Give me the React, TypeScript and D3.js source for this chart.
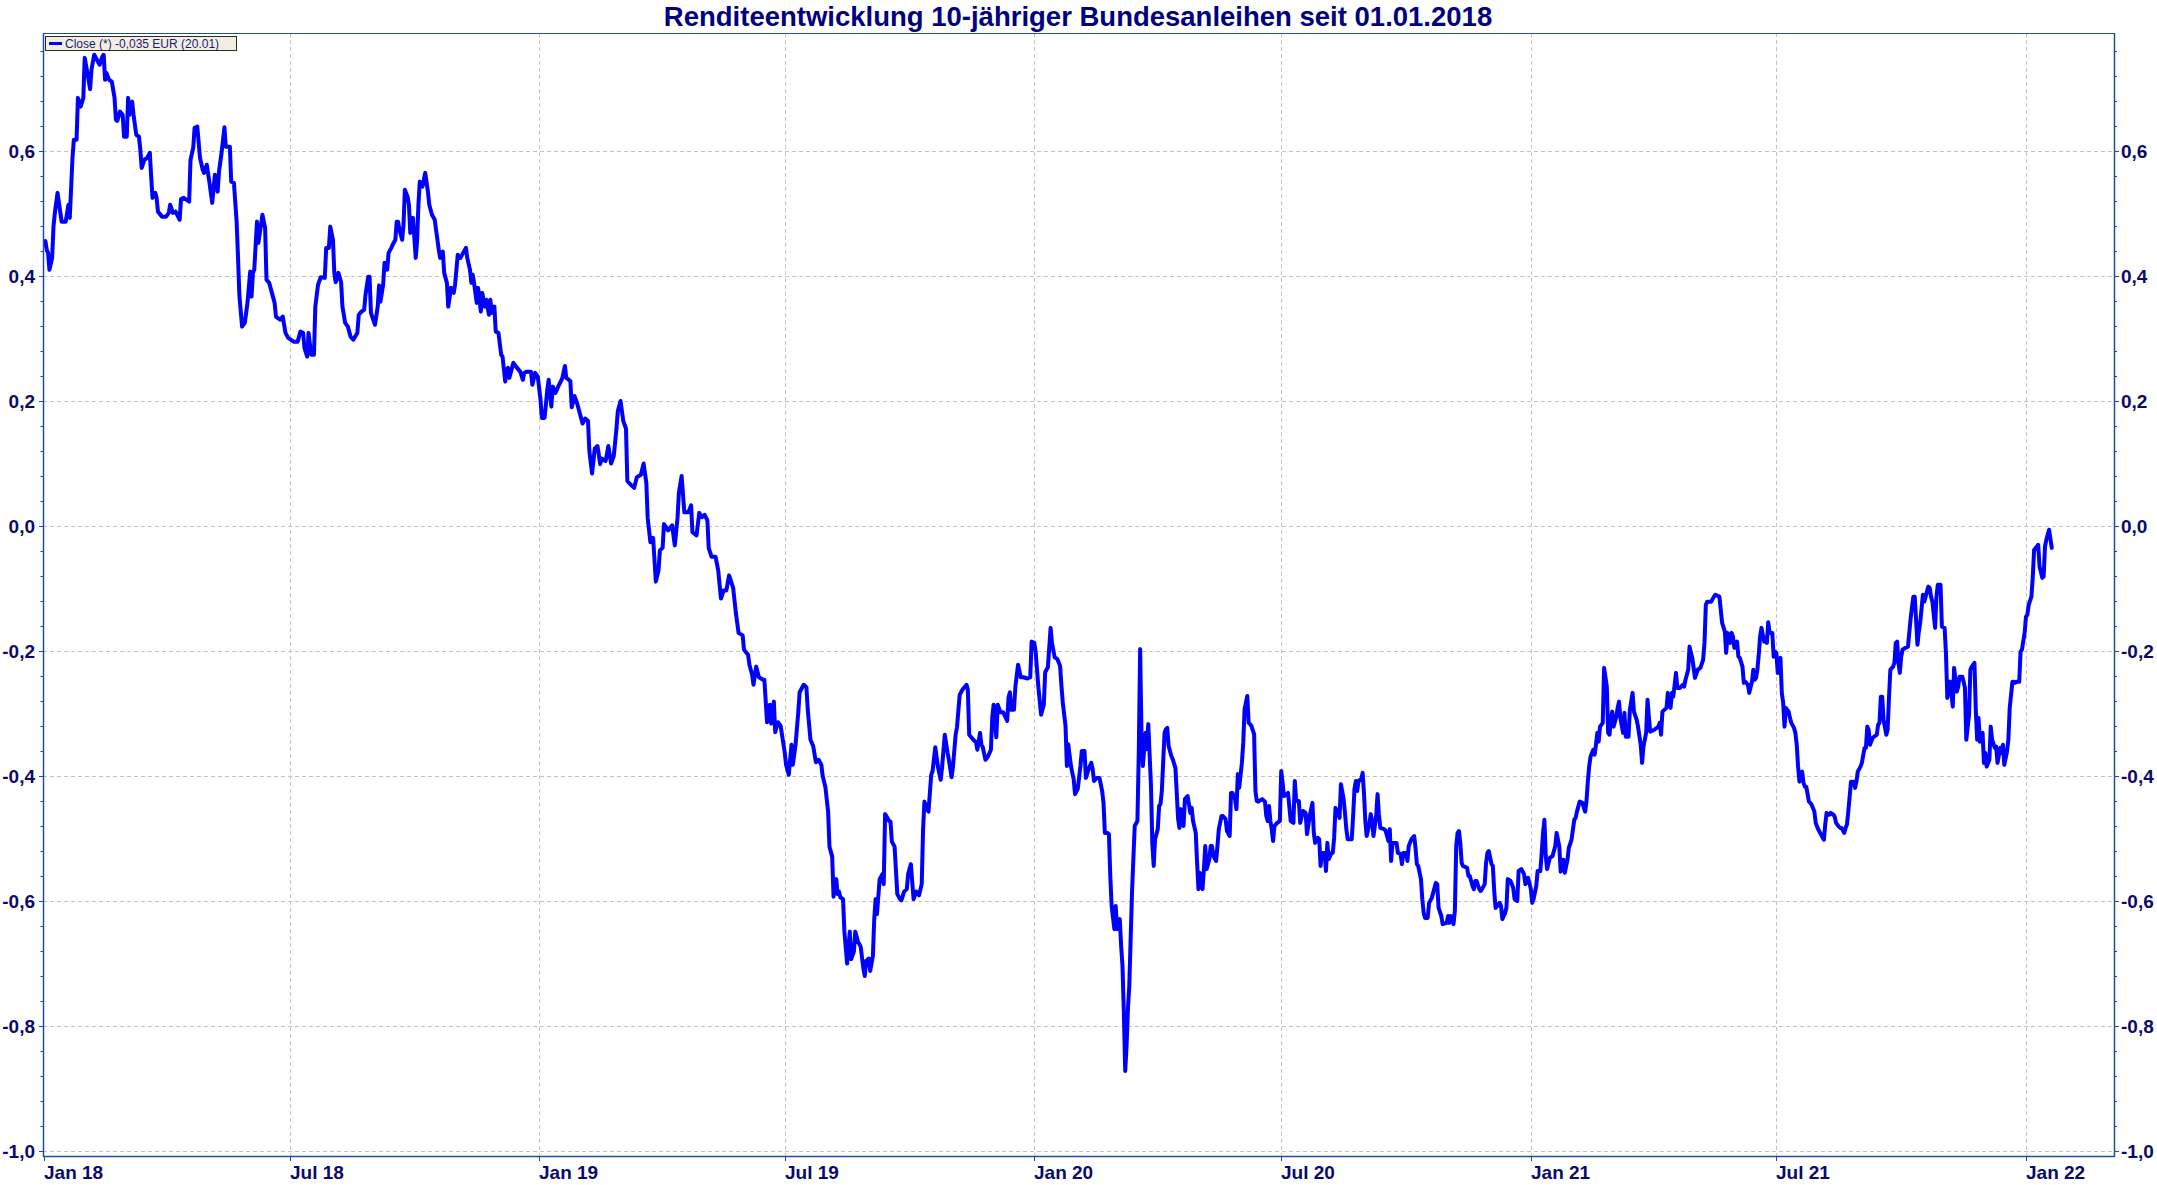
import React from "react";
import * as d3 from "d3";

// x values are days counted from 2018-01-01, y values are yields in percent
const series2018: [number, number][] = [
  [1,0.456],[2,0.442],[3,0.437],[4,0.410],[6,0.429],[7,0.479],[8,0.501],[10,0.533],[11,0.517],[13,0.487],[16,0.487],[18,0.514],[19,0.493],[20,0.541],[21,0.589],[22,0.618],[24,0.618],[25,0.685],[27,0.671],[29,0.685],[30,0.749],[32,0.725],[34,0.699],[35,0.730],[37,0.754],[39,0.746],[41,0.738],[43,0.751],[44,0.754],[45,0.714],[46,0.725],[48,0.714],[50,0.711],[52,0.685],[53,0.650],[54,0.648],[56,0.663],[58,0.658],[59,0.623],[61,0.623],[62,0.685],[63,0.658],[65,0.679],[66,0.658],[68,0.626],[70,0.623],[71,0.602],[72,0.573],[74,0.586],[76,0.589],[78,0.597],[79,0.559],[80,0.525],[82,0.533],[83,0.525],[84,0.503],[87,0.495],[90,0.495],[92,0.501],[93,0.514],[95,0.501],[97,0.503],[100,0.490],[101,0.523],[103,0.525],[107,0.519],[108,0.586],[110,0.605],[111,0.637],[113,0.639],[115,0.589],[117,0.570],[118,0.565],[120,0.578],[122,0.549],[124,0.517],[126,0.562],[128,0.535],[129,0.567],[131,0.599],[133,0.638],[134,0.607],[137,0.607],[138,0.551],[140,0.549],[142,0.487],[143,0.431],[144,0.370],[146,0.319],[148,0.325],[150,0.357],[152,0.407],[153,0.367],[154,0.405],[155,0.410],[157,0.487],[158,0.453],[160,0.482],[161,0.498],[163,0.477],[164,0.394],[166,0.389],[168,0.373],[170,0.357],[171,0.335],[174,0.330],[176,0.335],[178,0.309],[180,0.301],[184,0.295],[187,0.295],[189,0.311],[191,0.309],[192,0.285],[194,0.271],[195,0.309],[197,0.274],[199,0.274],[200,0.351],[202,0.386],[204,0.398],[207,0.397],[208,0.445],[210,0.445],[211,0.479],[213,0.458],[214,0.405],[215,0.390],[217,0.405],[219,0.390],[220,0.351],[222,0.325],[224,0.319],[226,0.303],[228,0.298],[231,0.309],[232,0.338],[234,0.343],[236,0.346],[237,0.370],[239,0.399],[240,0.399],[241,0.341],[244,0.322],[246,0.351],[247,0.385],[248,0.359],[250,0.386],[251,0.421],[253,0.410],[254,0.437],[256,0.445],[257,0.450],[259,0.458],[260,0.487],[261,0.487],[262,0.474],[264,0.458],[265,0.482],[266,0.538],[268,0.527],[269,0.514],[270,0.469],[272,0.493],[274,0.429],[275,0.455],[276,0.514],[277,0.551],[279,0.543],[280,0.554],[281,0.565],[283,0.535],[284,0.514],[286,0.498],[288,0.490],[290,0.458],[291,0.442],[292,0.429],[294,0.439],[295,0.405],[297,0.389],[298,0.351],[300,0.381],[302,0.373],[303,0.386],[305,0.434],[307,0.429],[309,0.437],[311,0.445],[312,0.429],[314,0.410],[315,0.389],[316,0.402],[317,0.389],[319,0.357],[320,0.381],[322,0.343],[323,0.373],[325,0.351],[326,0.362],[328,0.338],[329,0.362],[330,0.341],[332,0.351],[333,0.311],[335,0.309],[337,0.274],[338,0.271],[340,0.231],[341,0.250],[342,0.253],[343,0.237],[345,0.253],[346,0.261],[348,0.255],[351,0.247],[353,0.234],[354,0.245],[356,0.247],[359,0.247],[360,0.226],[362,0.245],[364,0.239]
];

const series2019: [number, number][] = [
  [366,0.202],[367,0.173],[369,0.173],[371,0.218],[372,0.234],[374,0.191],[375,0.223],[377,0.213],[379,0.223],[382,0.236],[384,0.256],[385,0.237],[388,0.232],[389,0.190],[391,0.208],[393,0.196],[395,0.180],[397,0.164],[399,0.172],[401,0.168],[402,0.120],[404,0.084],[406,0.124],[408,0.128],[410,0.099],[411,0.108],[414,0.104],[416,0.128],[418,0.100],[420,0.112],[422,0.156],[423,0.184],[425,0.200],[427,0.168],[429,0.156],[430,0.072],[433,0.065],[435,0.061],[437,0.078],[440,0.082],[442,0.100],[444,0.069],[445,0.013],[447,-0.026],[449,-0.019],[451,-0.089],[453,-0.071],[454,-0.039],[456,-0.035],[457,0.003],[460,-0.007],[463,0.001],[465,-0.031],[467,0.013],[468,0.053],[470,0.080],[472,0.022],[475,0.022],[477,0.033],[478,-0.010],[481,-0.015],[483,0.021],[485,0.014],[487,0.018],[489,0.009],[490,-0.035],[492,-0.049],[495,-0.049],[497,-0.071],[499,-0.116],[501,-0.103],[503,-0.103],[505,-0.079],[508,-0.099],[510,-0.139],[512,-0.171],[515,-0.175],[516,-0.198],[519,-0.206],[520,-0.222],[522,-0.238],[523,-0.254],[525,-0.225],[527,-0.242],[530,-0.246],[531,-0.246],[533,-0.314],[535,-0.286],[536,-0.316],[538,-0.281],[539,-0.330],[541,-0.314],[543,-0.320],[546,-0.362],[547,-0.382],[549,-0.398],[551,-0.350],[552,-0.382],[554,-0.350],[556,-0.298],[557,-0.266],[560,-0.254],[562,-0.258],[563,-0.294],[565,-0.342],[567,-0.352],[569,-0.378],[571,-0.374],[573,-0.382],[574,-0.400],[576,-0.418],[578,-0.457],[579,-0.513],[581,-0.529],[582,-0.593],[584,-0.565],[585,-0.589],[586,-0.585],[587,-0.594],[589,-0.597],[590,-0.649],[592,-0.700],[594,-0.649],[595,-0.693],[597,-0.681],[598,-0.649],[600,-0.665],[602,-0.673],[604,-0.708],[605,-0.720],[606,-0.696],[608,-0.692],[609,-0.712],[611,-0.688],[612,-0.629],[613,-0.597],[614,-0.621],[616,-0.565],[618,-0.557],[619,-0.573],[620,-0.461],[623,-0.472],[624,-0.473],[625,-0.505],[627,-0.513],[629,-0.589],[631,-0.597],[632,-0.599],[634,-0.585],[636,-0.581],[637,-0.557],[639,-0.541],[641,-0.597],[643,-0.585],[645,-0.591],[647,-0.573],[648,-0.485],[649,-0.441],[651,-0.453],[652,-0.457],[654,-0.398],[655,-0.392],[657,-0.354],[659,-0.386],[661,-0.406],[662,-0.386],[664,-0.334],[666,-0.362],[667,-0.374],[669,-0.402],[670,-0.386],[672,-0.334],[673,-0.322],[675,-0.270],[677,-0.262],[680,-0.254],[681,-0.262],[682,-0.334],[685,-0.342],[687,-0.346],[688,-0.358],[690,-0.331],[691,-0.350],[692,-0.354],[694,-0.374],[696,-0.368],[698,-0.358],[699,-0.306],[700,-0.286],[702,-0.338],[703,-0.286],[705,-0.298],[707,-0.298],[710,-0.312],[711,-0.274],[712,-0.266],[713,-0.294],[715,-0.294],[716,-0.258],[718,-0.222],[720,-0.242],[722,-0.242],[725,-0.244],[727,-0.242],[728,-0.185]
];

const series2020: [number, number][] = [
  [730,-0.187],[731,-0.202],[733,-0.258],[735,-0.302],[737,-0.286],[738,-0.234],[740,-0.226],[742,-0.163],[743,-0.187],[745,-0.210],[747,-0.213],[749,-0.224],[750,-0.256],[751,-0.283],[753,-0.320],[754,-0.384],[755,-0.349],[757,-0.384],[758,-0.395],[759,-0.405],[760,-0.429],[762,-0.421],[764,-0.384],[765,-0.360],[767,-0.360],[768,-0.403],[770,-0.389],[772,-0.379],[773,-0.389],[774,-0.408],[776,-0.403],[778,-0.403],[780,-0.424],[781,-0.443],[782,-0.491],[784,-0.491],[785,-0.493],[786,-0.560],[787,-0.608],[789,-0.645],[790,-0.608],[791,-0.645],[793,-0.629],[794,-0.672],[795,-0.704],[796,-0.779],[797,-0.872],[798,-0.832],[799,-0.773],[800,-0.736],[801,-0.661],[802,-0.587],[803,-0.533],[804,-0.480],[806,-0.472],[807,-0.363],[808,-0.197],[809,-0.331],[810,-0.384],[812,-0.331],[813,-0.357],[814,-0.317],[816,-0.416],[817,-0.509],[818,-0.544],[819,-0.501],[821,-0.485],[822,-0.448],[823,-0.445],[824,-0.424],[826,-0.331],[827,-0.325],[828,-0.323],[829,-0.352],[831,-0.368],[832,-0.373],[834,-0.387],[835,-0.427],[836,-0.469],[837,-0.483],[838,-0.453],[840,-0.480],[841,-0.437],[843,-0.432],[845,-0.459],[846,-0.451],[847,-0.472],[849,-0.491],[850,-0.539],[851,-0.581],[852,-0.555],[854,-0.581],[855,-0.549],[856,-0.512],[857,-0.549],[859,-0.533],[860,-0.512],[861,-0.512],[862,-0.528],[864,-0.536],[865,-0.512],[866,-0.485],[868,-0.464],[869,-0.464],[871,-0.469],[872,-0.488],[874,-0.496],[875,-0.427],[876,-0.427],[878,-0.437],[879,-0.453],[880,-0.397],[881,-0.419],[883,-0.379],[884,-0.347],[885,-0.293],[887,-0.272],[888,-0.315],[889,-0.317],[890,-0.320],[892,-0.333],[893,-0.424],[894,-0.440],[895,-0.441],[898,-0.437],[900,-0.441],[901,-0.464],[902,-0.472],[903,-0.448],[904,-0.472],[905,-0.485],[906,-0.504],[907,-0.480],[909,-0.475],[911,-0.472],[912,-0.392],[913,-0.411],[914,-0.432],[916,-0.429],[917,-0.427],[919,-0.472],[921,-0.475],[922,-0.408],[923,-0.440],[925,-0.440],[926,-0.475],[928,-0.456],[930,-0.459],[931,-0.493],[933,-0.464],[935,-0.443],[936,-0.491],[937,-0.507],[939,-0.499],[940,-0.501],[941,-0.544],[942,-0.523],[944,-0.523],[945,-0.552],[946,-0.507],[947,-0.533],[949,-0.523],[950,-0.523],[951,-0.499],[952,-0.451],[954,-0.459],[955,-0.467],[956,-0.413],[958,-0.437],[959,-0.459],[960,-0.485],[961,-0.501],[964,-0.501],[965,-0.464],[966,-0.421],[967,-0.408],[968,-0.424],[969,-0.408],[971,-0.405],[972,-0.395],[973,-0.427],[974,-0.472],[975,-0.496],[977,-0.477],[978,-0.461],[979,-0.472],[980,-0.496],[982,-0.464],[983,-0.429],[984,-0.461],[985,-0.483],[988,-0.485],[989,-0.488],[991,-0.504],[992,-0.485],[993,-0.536],[994,-0.507],[997,-0.507],[998,-0.523],[1000,-0.525],[1001,-0.541],[1002,-0.523],[1004,-0.523],[1005,-0.536],[1006,-0.512],[1008,-0.501],[1010,-0.496],[1011,-0.515],[1012,-0.541],[1013,-0.544],[1015,-0.565],[1016,-0.597],[1017,-0.619],[1018,-0.627],[1020,-0.627],[1021,-0.603],[1023,-0.595],[1025,-0.579],[1026,-0.571],[1027,-0.573],[1028,-0.611],[1030,-0.624],[1031,-0.637],[1034,-0.635],[1035,-0.624],[1036,-0.635],[1037,-0.624],[1039,-0.637],[1040,-0.616],[1041,-0.512],[1042,-0.491],[1043,-0.488],[1044,-0.507],[1045,-0.539],[1046,-0.544],[1049,-0.547],[1050,-0.560],[1051,-0.560],[1053,-0.576],[1054,-0.581],[1055,-0.568],[1056,-0.568],[1058,-0.581],[1059,-0.584],[1060,-0.581],[1062,-0.573],[1063,-0.539],[1064,-0.523],[1065,-0.520],[1067,-0.541],[1068,-0.544],[1069,-0.584],[1070,-0.611],[1073,-0.603],[1074,-0.608],[1075,-0.629],[1077,-0.619],[1078,-0.611],[1079,-0.565],[1081,-0.568],[1082,-0.573],[1083,-0.579],[1084,-0.597],[1086,-0.600],[1087,-0.552],[1089,-0.549],[1091,-0.557],[1092,-0.573],[1094,-0.563]
];

const series2021: [number, number][] = [
  [1096,-0.581],[1097,-0.603],[1098,-0.597],[1100,-0.576],[1101,-0.552],[1103,-0.552],[1104,-0.523],[1105,-0.491],[1106,-0.470],[1107,-0.528],[1108,-0.549],[1110,-0.531],[1112,-0.528],[1114,-0.512],[1115,-0.491],[1117,-0.513],[1118,-0.553],[1120,-0.534],[1121,-0.555],[1123,-0.534],[1124,-0.515],[1126,-0.502],[1128,-0.470],[1129,-0.467],[1130,-0.457],[1132,-0.441],[1134,-0.443],[1136,-0.457],[1137,-0.441],[1138,-0.409],[1139,-0.385],[1140,-0.369],[1142,-0.358],[1143,-0.366],[1144,-0.350],[1145,-0.331],[1146,-0.345],[1147,-0.321],[1149,-0.315],[1150,-0.227],[1152,-0.257],[1153,-0.331],[1154,-0.334],[1155,-0.310],[1156,-0.297],[1157,-0.321],[1159,-0.305],[1160,-0.291],[1161,-0.281],[1162,-0.307],[1164,-0.331],[1165,-0.299],[1166,-0.337],[1168,-0.337],[1169,-0.294],[1171,-0.267],[1172,-0.297],[1174,-0.310],[1175,-0.321],[1177,-0.350],[1178,-0.379],[1179,-0.353],[1181,-0.331],[1182,-0.278],[1183,-0.305],[1184,-0.329],[1187,-0.326],[1190,-0.321],[1191,-0.315],[1192,-0.334],[1193,-0.297],[1196,-0.291],[1197,-0.267],[1199,-0.291],[1200,-0.267],[1201,-0.273],[1203,-0.235],[1204,-0.259],[1206,-0.259],[1208,-0.254],[1209,-0.257],[1210,-0.246],[1212,-0.230],[1213,-0.193],[1214,-0.203],[1215,-0.211],[1217,-0.243],[1219,-0.230],[1221,-0.227],[1223,-0.214],[1224,-0.187],[1225,-0.126],[1226,-0.121],[1229,-0.121],[1231,-0.113],[1232,-0.110],[1235,-0.113],[1236,-0.134],[1237,-0.155],[1239,-0.169],[1240,-0.203],[1241,-0.171],[1243,-0.187],[1244,-0.171],[1245,-0.177],[1246,-0.195],[1248,-0.185],[1249,-0.209],[1250,-0.211],[1252,-0.225],[1253,-0.251],[1254,-0.249],[1256,-0.254],[1257,-0.267],[1259,-0.249],[1260,-0.230],[1261,-0.246],[1262,-0.243],[1263,-0.230],[1264,-0.206],[1265,-0.177],[1266,-0.163],[1268,-0.185],[1269,-0.179],[1270,-0.187],[1271,-0.154],[1272,-0.171],[1274,-0.171],[1275,-0.209],[1276,-0.201],[1277,-0.203],[1278,-0.235],[1280,-0.211],[1281,-0.267],[1282,-0.283],[1283,-0.321],[1284,-0.291],[1286,-0.297],[1287,-0.307],[1288,-0.315],[1290,-0.323],[1291,-0.331],[1292,-0.350],[1293,-0.385],[1294,-0.409],[1296,-0.393],[1297,-0.411],[1298,-0.417],[1299,-0.417],[1301,-0.441],[1302,-0.443],[1303,-0.446],[1305,-0.457],[1306,-0.475],[1307,-0.481],[1308,-0.486],[1310,-0.494],[1312,-0.502],[1313,-0.478],[1314,-0.459],[1315,-0.462],[1316,-0.462],[1317,-0.459],[1319,-0.462],[1320,-0.465],[1321,-0.475],[1323,-0.481],[1324,-0.483],[1325,-0.483],[1327,-0.491],[1328,-0.483],[1329,-0.478],[1330,-0.457],[1332,-0.409],[1334,-0.409],[1335,-0.419],[1336,-0.409],[1337,-0.393],[1339,-0.385],[1340,-0.379],[1342,-0.355],[1343,-0.355],[1344,-0.321],[1345,-0.326],[1346,-0.350],[1348,-0.339],[1349,-0.337],[1351,-0.334],[1352,-0.318],[1353,-0.315],[1354,-0.273],[1355,-0.273],[1356,-0.310],[1358,-0.334],[1359,-0.326],[1360,-0.275],[1361,-0.230],[1363,-0.225],[1364,-0.219],[1365,-0.187],[1366,-0.185],[1367,-0.219],[1368,-0.235],[1369,-0.209],[1370,-0.198],[1372,-0.195],[1374,-0.193],[1376,-0.147],[1377,-0.129],[1378,-0.113],[1379,-0.113],[1381,-0.190],[1382,-0.169],[1383,-0.155],[1385,-0.110],[1386,-0.121],[1387,-0.113],[1389,-0.097],[1390,-0.099],[1391,-0.113],[1392,-0.121],[1394,-0.163],[1395,-0.113],[1396,-0.094],[1398,-0.094],[1399,-0.161],[1401,-0.163],[1402,-0.203],[1403,-0.275],[1405,-0.249],[1406,-0.267],[1407,-0.289],[1408,-0.227],[1410,-0.265],[1411,-0.257],[1412,-0.241],[1414,-0.241],[1415,-0.249],[1416,-0.259],[1417,-0.342],[1419,-0.302],[1420,-0.230],[1421,-0.225],[1423,-0.219],[1424,-0.294],[1425,-0.342],[1426,-0.307],[1427,-0.345],[1429,-0.331],[1430,-0.379],[1431,-0.363],[1432,-0.385],[1434,-0.374],[1435,-0.321],[1436,-0.342],[1438,-0.355],[1439,-0.353],[1440,-0.379],[1442,-0.355],[1443,-0.363],[1444,-0.350],[1445,-0.382],[1447,-0.361],[1448,-0.342],[1449,-0.291],[1451,-0.249],[1452,-0.249],[1453,-0.251],[1454,-0.249],[1456,-0.249],[1457,-0.201],[1458,-0.198],[1460,-0.171]
];

const series2022: [number, number][] = [
  [1461,-0.145],[1462,-0.142],[1463,-0.126],[1465,-0.113],[1466,-0.081],[1467,-0.038],[1469,-0.033],[1470,-0.030],[1471,-0.065],[1473,-0.083],[1474,-0.081],[1475,-0.033],[1476,-0.022],[1478,-0.006],[1480,-0.035]
];

const yTickValues = [0.6, 0.4, 0.2, 0.0, -0.2, -0.4, -0.6, -0.8, -1.0];
const xTickDates = ["2018-01-01","2018-07-01","2019-01-01","2019-07-01","2020-01-01","2020-07-01","2021-01-01","2021-07-01","2022-01-01"];
const xTickLabels = ["Jan 18","Jul 18","Jan 19","Jul 19","Jan 20","Jul 20","Jan 21","Jul 21","Jan 22"];
const titleText = "Renditeentwicklung 10-jähriger Bundesanleihen seit 01.01.2018";
const legendText = "Close (*) -0,035 EUR (20.01)";

const W = 2157;
const H = 1185;
const PLOT = { left: 43, right: 2114, top: 33, bottom: 1156 };
const AXIS_COLOR = "#1f4e9e";
const TEXT_COLOR = "#0a0a6e";
const GRID_COLOR = "#c4c4c4";
const LINE_COLOR = "#0000ff";
const FONT = "'Liberation Sans', Arial, sans-serif";

const parseDate = (s: string) => {
  const [y, m, d] = s.split("-").map(Number);
  return new Date(y, m - 1, d);
};
const START = new Date(2018, 0, 1);
const fmt = (v: number) => d3.format(".1f")(v).replace(".", ",").replace("−", "-");

export default function App() {
  if (typeof document !== "undefined") {
    document.body.style.margin = "0";
  }
  const x = d3.scaleTime().domain([parseDate("2018-01-01"), parseDate("2022-01-01")]).range([44, 2026]);
  const y = d3.scaleLinear().domain([-1, 0.6]).range([1151, 151]);

  const all = [...series2018, ...series2019, ...series2020, ...series2021, ...series2022].map(([d, v]) => ({
    date: d3.timeDay.offset(START, d),
    v,
  }));
  const line = d3
    .line<{ date: Date; v: number }>()
    .x((d) => x(d.date))
    .y((d) => y(d.v));

  const minorTicks = d3.range(-1.0, 0.78, 0.04).map((v) => Math.round(v * 100) / 100);
  const majorSet = new Set(yTickValues.map((v) => Math.round(v * 100)));

  return (
    <svg
      width={W}
      height={H}
      viewBox={`0 0 ${W} ${H}`}
      style={{ position: "absolute", left: 0, top: 0, display: "block", background: "#fff" }}
    >
      <rect x={0} y={0} width={W} height={H} fill="#fff" />
      {/* title */}
      <text
        x={1078}
        y={26}
        textAnchor="middle"
        fontFamily={FONT}
        fontWeight="bold"
        fontSize={27.5}
        fill="#000080"
      >
        {titleText}
      </text>

      {/* horizontal grid */}
      {yTickValues.map((v) => (
        <line
          key={"hg" + v}
          x1={PLOT.left}
          x2={PLOT.right}
          y1={Math.round(y(v)) + 0.5}
          y2={Math.round(y(v)) + 0.5}
          stroke={GRID_COLOR}
          strokeWidth={1}
          strokeDasharray="4,3"
        />
      ))}
      {/* vertical grid */}
      {xTickDates.slice(1).map((s) => (
        <line
          key={"vg" + s}
          x1={Math.round(x(parseDate(s))) + 0.5}
          x2={Math.round(x(parseDate(s))) + 0.5}
          y1={PLOT.top}
          y2={PLOT.bottom}
          stroke={GRID_COLOR}
          strokeWidth={1}
          strokeDasharray="4,3"
        />
      ))}

      {/* data line */}
      <path
        d={line(all) || ""}
        fill="none"
        stroke={LINE_COLOR}
        strokeWidth={4}
        strokeLinejoin="round"
        strokeLinecap="round"
      />

      {/* frame */}
      <line x1={PLOT.left} x2={PLOT.right} y1={PLOT.top + 0.5} y2={PLOT.top + 0.5} stroke={AXIS_COLOR} strokeWidth={1.2} />
      <line x1={PLOT.left} x2={PLOT.right} y1={PLOT.bottom + 0.5} y2={PLOT.bottom + 0.5} stroke={AXIS_COLOR} strokeWidth={1.5} />
      <line x1={PLOT.left + 0.5} x2={PLOT.left + 0.5} y1={PLOT.top} y2={PLOT.bottom + 1} stroke={AXIS_COLOR} strokeWidth={1.5} />
      <line x1={PLOT.right + 0.5} x2={PLOT.right + 0.5} y1={PLOT.top} y2={PLOT.bottom + 1} stroke={AXIS_COLOR} strokeWidth={1.5} />

      {/* y ticks left & right */}
      {minorTicks.map((v) => {
        const major = majorSet.has(Math.round(v * 100));
        const yy = Math.round(y(v)) + 0.5;
        return (
          <g key={"t" + v}>
            <line x1={PLOT.left - (major ? 4 : 2.5)} x2={PLOT.left} y1={yy} y2={yy} stroke={AXIS_COLOR} strokeWidth={1} />
            <line x1={PLOT.right} x2={PLOT.right + (major ? 5 : 3)} y1={yy} y2={yy} stroke={AXIS_COLOR} strokeWidth={1} />
          </g>
        );
      })}
      {yTickValues.map((v) => (
        <g key={"yl" + v} fontFamily={FONT} fontWeight="bold" fontSize={19} fill={TEXT_COLOR}>
          <text x={35} y={y(v) + 7} textAnchor="end">
            {fmt(v)}
          </text>
          <text x={2121} y={y(v) + 7} textAnchor="start">
            {fmt(v)}
          </text>
        </g>
      ))}

      {/* x ticks */}
      {xTickDates.map((s, i) => {
        const xx = Math.round(x(parseDate(s))) + 0.5;
        return (
          <g key={"xt" + s}>
            <line x1={xx} x2={xx} y1={PLOT.bottom} y2={PLOT.bottom + 5} stroke={AXIS_COLOR} strokeWidth={1} />
            <text
              x={xx - 0.5}
              y={1179}
              textAnchor="start"
              fontFamily={FONT}
              fontWeight="bold"
              fontSize={19}
              fill={TEXT_COLOR}
            >
              {xTickLabels[i]}
            </text>
          </g>
        );
      })}

      {/* legend */}
      <g>
        <rect x={45.5} y={36.5} width={191} height={14} fill="#f3eee0" stroke="#2a2a2a" strokeWidth={1} />
        <line x1={49} x2={62} y1={43.5} y2={43.5} stroke={LINE_COLOR} strokeWidth={3} />
        <text x={65} y={47.5} fontFamily={FONT} fontSize={12} fill="#1a1a80">
          {legendText}
        </text>
      </g>
    </svg>
  );
}
